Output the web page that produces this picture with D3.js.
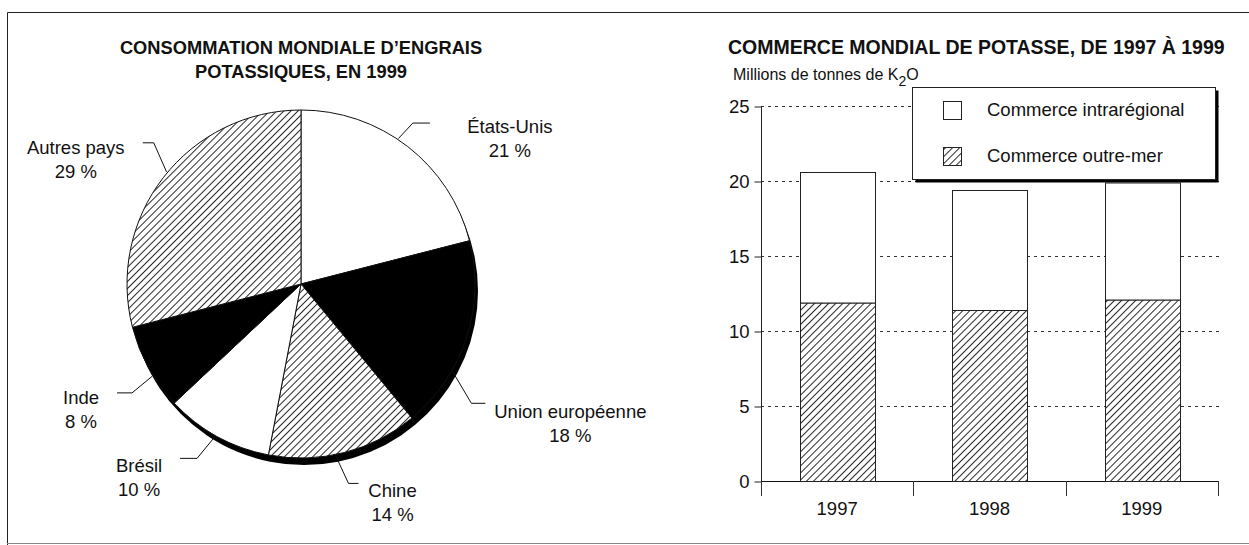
<!DOCTYPE html>
<html>
<head>
<meta charset="utf-8">
<script src="https://cdn.jsdelivr.net/npm/d3@7"></script>
<style>
  body { margin: 0; background: white; }
  text { font-family: 'Liberation Sans', Arial, sans-serif; fill: #111; }
</style>
</head>
<body>
<script>
// data
const pie_labels = ['États-Unis', 'Union européenne', 'Chine', 'Brésil', 'Inde', 'Autres pays'];
const pie_shares = [21, 18, 14, 10, 8, 29];

const years = ['1997', '1998', '1999'];
const outre_mer = [11.9, 11.4, 12.1];
const intraregional = [8.7, 8.0, 7.8];
const y_ticks = [0, 5, 10, 15, 20, 25];
const legend_labels = ['Commerce intrarégional', 'Commerce outre-mer'];

const [w, h] = [1249, 545];
const pie_fills = ['white', 'black', 'url(#hatch)', 'white', 'black', 'url(#hatch)'];
const fs = 18.5;

const svg = d3.select('body').append('svg')
  .attr('width', w)
  .attr('height', h);

const defs = svg.append('defs');
const hatch = defs.append('pattern')
  .attr('id', 'hatch')
  .attr('patternUnits', 'userSpaceOnUse')
  .attr('width', 5)
  .attr('height', 5)
  .attr('patternTransform', 'rotate(45)');
hatch.append('rect')
  .attr('width', 5).attr('height', 5)
  .attr('fill', 'white');
hatch.append('line')
  .attr('x1', 0.5).attr('y1', 0)
  .attr('x2', 0.5).attr('y2', 5)
  .attr('stroke', '#111')
  .attr('stroke-width', 0.9);

// outer frame
svg.append('path')
  .attr('d', `M7.5,${h} V12.5 H${w}`)
  .attr('fill', 'none')
  .attr('stroke', '#222')
  .attr('stroke-width', 1);
svg.append('line')
  .attr('x1', 7).attr('x2', w)
  .attr('y1', 543.5).attr('y2', 543.5)
  .attr('stroke', '#888');

// ---------- pie ----------
const [cx, cy, r] = [301, 284, 174];

const pie_title = svg.append('text')
  .attr('x', cx)
  .attr('text-anchor', 'middle')
  .attr('font-size', 18.3)
  .attr('font-weight', 'bold');
pie_title.append('tspan').attr('x', cx).attr('y', 54).text('CONSOMMATION MONDIALE D’ENGRAIS');
pie_title.append('tspan').attr('x', cx).attr('y', 78).text('POTASSIQUES, EN 1999');

const pie_g = svg.append('g').attr('transform', `translate(${cx}, ${cy})`);

// black shadow under the pie
pie_g.append('circle')
  .attr('cx', 3).attr('cy', 7)
  .attr('r', r)
  .attr('fill', 'black');

const arcs = d3.pie().sort(null).value(d => d)(pie_shares);
const arc = d3.arc().innerRadius(0).outerRadius(r);

pie_g.selectAll('path.slice')
  .data(arcs)
  .enter()
  .append('path')
  .attr('class', 'slice')
  .attr('d', arc)
  .attr('fill', (d, i) => pie_fills[i])
  .attr('stroke', '#111')
  .attr('stroke-width', 1);

// leader lines: start / elbow nudges (deg) from the slice middle, elbow distance,
// horizontal run, then text offset from the line end
const label_layout = {
  'États-Unis': { n0: -4, n1: -3, len: 22, run: 17, dx: 80, dy: 10 },
  'Union européenne': { n0: 12, n1: 17, len: 34, run: 14, dx: 85, dy: 15 },
  'Chine': { n0: 3, n1: 1, len: 31, run: 10, dx: 34, dy: 14 },
  'Brésil': { n0: 0.6, n1: 2, len: 29, run: 17, dx: -41, dy: 14 },
  'Inde': { n0: -3, n1: -4, len: 27, run: 15, dx: -36, dy: 11 },
  'Autres pays': { n0: 2, n1: 6, len: 30, run: 11, dx: -67, dy: 11 }
};

const polar = (ang, dist) => [Math.sin(ang) * dist, -Math.cos(ang) * dist];
const rad = Math.PI / 180;

arcs.forEach((a, i) => {
  const name = pie_labels[i];
  const lay = label_layout[name];
  const mid = (a.startAngle + a.endAngle) / 2;
  const p0 = polar(mid + lay.n0 * rad, r + 1);
  const p1 = polar(mid + lay.n1 * rad, r + lay.len);
  const side = Math.sin(mid) >= 0 ? 1 : -1;
  const p2 = [p1[0] + side * lay.run, p1[1]];

  pie_g.append('polyline')
    .attr('points', [p0, p1, p2].map(p => p.join(',')).join(' '))
    .attr('fill', 'none')
    .attr('stroke', '#111')
    .attr('stroke-width', 1);

  const t = pie_g.append('text')
    .attr('text-anchor', 'middle')
    .attr('font-size', fs);
  t.append('tspan').attr('x', p2[0] + lay.dx).attr('y', p2[1] + lay.dy).text(name);
  t.append('tspan').attr('x', p2[0] + lay.dx).attr('y', p2[1] + lay.dy + 24).text(pie_shares[i] + ' %');
});

// ---------- bars ----------
const x = d3.scaleBand().domain(years).range([761, 1218]);
const y = d3.scaleLinear().domain([0, 25]).range([481, 106]);
const bar_w = x.bandwidth() * 0.49;

svg.append('text')
  .attr('x', 728)
  .attr('y', 54)
  .attr('font-size', 19.5)
  .attr('font-weight', 'bold')
  .text('COMMERCE MONDIAL DE POTASSE, DE 1997 À 1999');

const sub = svg.append('text')
  .attr('x', 733)
  .attr('y', 80)
  .attr('font-size', 16);
sub.append('tspan').text('Millions de tonnes de K');
sub.append('tspan').attr('dy', 6).attr('font-size', 14).text('2');
sub.append('tspan').attr('dy', -6).text('O');

// dotted grid
svg.selectAll('line.grid')
  .data(y_ticks.filter(v => v > 0))
  .enter()
  .append('line')
  .attr('class', 'grid')
  .attr('x1', 761).attr('x2', 1220)
  .attr('y1', d => y(d) + 0.5).attr('y2', d => y(d) + 0.5)
  .attr('stroke', '#333')
  .attr('stroke-width', 1)
  .attr('stroke-dasharray', '3,4');

// y axis
const y_axis = svg.append('g')
  .attr('transform', 'translate(761.5, 0.5)')
  .call(d3.axisLeft(y).tickValues(y_ticks).tickSize(7).tickPadding(5).tickFormat(d3.format('d')));
y_axis.select('.domain').attr('d', `M0,${y(0)} V${y(25)}`).attr('stroke', '#222');
y_axis.selectAll('.tick line').attr('stroke', '#222');
y_axis.selectAll('.tick text')
  .attr('font-size', fs)
  .attr('font-family', "'Liberation Sans', Arial, sans-serif")
  .attr('fill', '#111');

// x axis with separators between years
svg.append('line')
  .attr('x1', 761).attr('x2', 1218)
  .attr('y1', y(0) + 0.5).attr('y2', y(0) + 0.5)
  .attr('stroke', '#111');
svg.selectAll('line.sep')
  .data(years.map(yr => x(yr)).concat([x(years[years.length - 1]) + x.bandwidth()]))
  .enter()
  .append('line')
  .attr('class', 'sep')
  .attr('x1', d => Math.round(d) + 0.5).attr('x2', d => Math.round(d) + 0.5)
  .attr('y1', y(0)).attr('y2', y(0) + 15)
  .attr('stroke', '#333');
svg.selectAll('text.year')
  .data(years)
  .enter()
  .append('text')
  .attr('class', 'year')
  .attr('x', d => x(d) + x.bandwidth() / 2)
  .attr('y', 515)
  .attr('text-anchor', 'middle')
  .attr('font-size', fs)
  .text(d => d);

// stacked bars
const bars = svg.selectAll('g.bar')
  .data(years)
  .enter()
  .append('g')
  .attr('class', 'bar');

bars.append('rect')
  .attr('x', (d, i) => Math.round(x(d) + (x.bandwidth() - bar_w) / 2) + 0.5)
  .attr('y', (d, i) => y(outre_mer[i]) + 0.5)
  .attr('width', Math.round(bar_w))
  .attr('height', (d, i) => y(0) - y(outre_mer[i]))
  .attr('fill', 'url(#hatch)')
  .attr('stroke', '#222');

bars.append('rect')
  .attr('x', (d, i) => Math.round(x(d) + (x.bandwidth() - bar_w) / 2) + 0.5)
  .attr('y', (d, i) => y(outre_mer[i] + intraregional[i]) + 0.5)
  .attr('width', Math.round(bar_w))
  .attr('height', (d, i) => y(outre_mer[i]) - y(outre_mer[i] + intraregional[i]))
  .attr('fill', 'white')
  .attr('stroke', '#222');

// legend
const legend = svg.append('g');
legend.append('rect')
  .attr('x', 915.5).attr('y', 90.5)
  .attr('width', 303).attr('height', 92)
  .attr('fill', 'black');
legend.append('rect')
  .attr('x', 912.5).attr('y', 87.5)
  .attr('width', 303).attr('height', 92)
  .attr('fill', 'white')
  .attr('stroke', '#222');

const legend_item = legend.selectAll('g.item')
  .data(legend_labels)
  .enter()
  .append('g')
  .attr('class', 'item')
  .attr('transform', (d, i) => `translate(0, ${i * 46})`);
legend_item.append('rect')
  .attr('x', 943.5).attr('y', 101.5)
  .attr('width', 18).attr('height', 18)
  .attr('fill', (d, i) => i === 0 ? 'white' : 'url(#hatch)')
  .attr('stroke', '#222');
legend_item.append('text')
  .attr('x', 987)
  .attr('y', 116)
  .attr('font-size', fs)
  .text(d => d);
</script>
</body>
</html>
